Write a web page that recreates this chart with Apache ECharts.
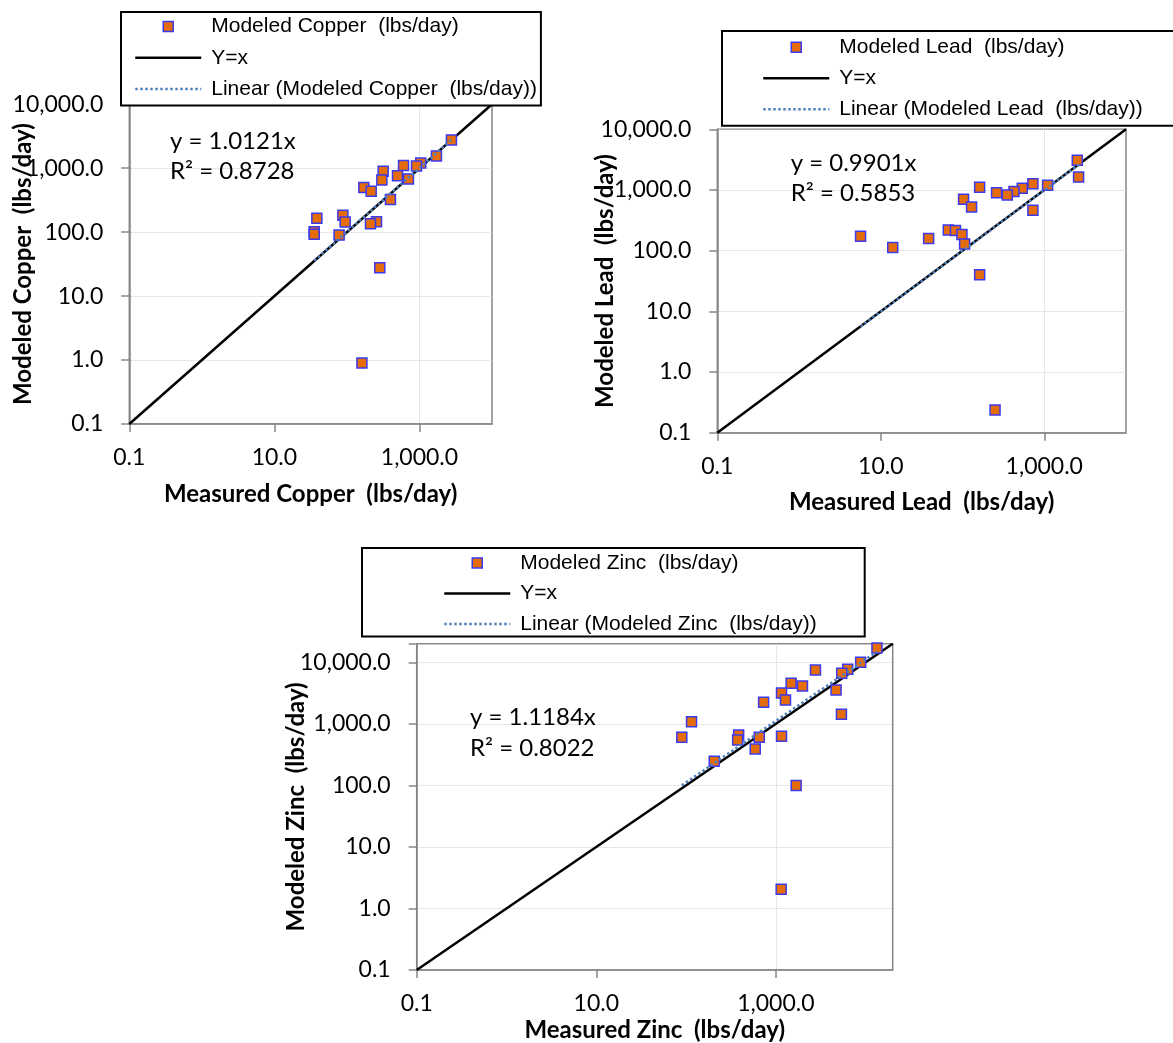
<!DOCTYPE html>
<html><head><meta charset="utf-8">
<script src="https://cdn.jsdelivr.net/npm/echarts@6/dist/echarts.min.js"></script>
<style>html,body{margin:0;padding:0;background:#fff}#c{width:1173px;height:1043px}</style>
</head><body><div id="c"></div>
<script>
// ---------------- data ----------------
const CU_MEASURED = [2760, 1714, 1042, 910, 603, 705, 498, 316, 303, 398, 171, 216, 38.5, 35.4, 35.4, 88, 94.6, 78, 256, 211, 284, 161];
const CU_MODELED  = [2768, 1556, 1208, 1084, 1099, 679, 766, 896, 656, 323, 498, 435, 165, 102, 93, 184, 144, 90, 146, 136, 27.9, 0.90];

const PB_MEASURED = [2535, 2630, 1099, 726, 538, 426, 353, 261, 162, 726, 103, 129, 67, 82, 98.4, 106, 38.5, 5.66, 14.0, 162, 250];
const PB_MODELED  = [3084, 1637, 1194, 1271, 1065, 940, 828, 904, 1107, 462, 701, 525, 219, 214, 184, 129, 158, 172, 113, 40.2, 0.237];

const ZN_MEASURED = [13360, 8790, 6310, 5410, 4680, 5370, 2760, 1977, 1479, 1156, 1280, 730, 1156, 1683, 1146, 653, 589, 385, 375, 206, 115, 89.6];
const ZN_MODELED  = [17100, 10000, 7690, 6620, 3550, 1429, 7500, 4120, 4560, 3180, 2443, 2240, 627, 100, 2.05, 604, 391, 659, 547, 246, 1086, 604];

const METALS    = ['Copper', 'Lead', 'Zinc'];
const SLOPES    = [1.0121, 0.9901, 1.1184];
const R_SQUARED = [0.8728, 0.5853, 0.8022];
const AXIS_MIN  = [0.1, 0.1, 0.1];
const AXIS_MAX  = [10000, 10000, 20000];
const X_TICK_VALUES = [0.1, 10, 1000];
const Y_LABELLED_MAX = 10000;

// ---------------- layout ----------------
const GRIDS = [
  {left: 129.3, top: 104.3, width: 362.7, height: 319.7},
  {left: 717.3, top: 129.3, width: 408.7, height: 303.4},
  {left: 416.7, top: 643.8, width: 476.0, height: 326.2}
];
const LEGENDS = [
  {left: 121, top: 12, padding: [4, 4, 6, 13], itemGap: 10.3},
  {left: 722, top: 31, padding: [5.7, 35, 6, 40], itemGap: 10},
  {left: 362, top: 548, padding: [4.4, 48, 2, 81], itemGap: 9.5}
];
const Y_NAME_GAP = [94, 100, 108];
const X_NAME_GAP = [58, 58, 48];
const EQ_POS = [
  {left: 170, top: 126.7, lh: 30},
  {left: 790.7, top: 148.3, lh: 30},
  {left: 470, top: 701, lh: 31.6}
];

const ORANGE = '#e46c0a', BLUE_EDGE = '#3a3aef', TREND = '#4f81bd', AXIS_GRAY = '#868686', GRID_GRAY = '#cfcfcf';
const T = 'rgba(0,0,0,0)';

function fmt(v) {
  return Number(v).toLocaleString('en-US', {minimumFractionDigits: 1, maximumFractionDigits: 1});
}
function isDecade(v) { const e = Math.log10(v); return Math.abs(e - Math.round(e)) < 1e-6; }
function xFmt(v) {
  if (!isDecade(v)) return '';
  const e = Math.round(Math.log10(v));
  return (Math.abs(e) % 2 === 1) ? fmt(v) : '';
}
function yFmt(v) {
  if (!isDecade(v) || v > Y_LABELLED_MAX * 1.0001) return '';
  return fmt(v);
}

const MEASURED = [CU_MEASURED, PB_MEASURED, ZN_MEASURED];
const MODELED  = [CU_MODELED, PB_MODELED, ZN_MODELED];

const grids = [], xAxes = [], yAxes = [], series = [], legends = [], graphics = [];

for (let i = 0; i < 3; i++) {
  const metal = METALS[i];
  const scatName = 'Modeled ' + metal + '  (lbs/day)';
  const trendName = 'Linear (Modeled ' + metal + '  (lbs/day))';
  grids.push(Object.assign({show: true, borderColor: AXIS_GRAY, borderWidth: 1.5, backgroundColor: '#fff',
    containLabel: false, outerBoundsMode: 'none'}, GRIDS[i]));

  const nDec = Math.round(Math.log10(AXIS_MAX[i])) - Math.round(Math.log10(AXIS_MIN[i])) + 1;
  const extra = isDecade(AXIS_MAX[i]) ? 0 : 1;
  const splitColors = [];
  for (let k = 0; k < nDec + extra; k++) {
    const v = AXIS_MIN[i] * Math.pow(10, k);
    const e = Math.round(Math.log10(v));
    splitColors.push(k > 0 && k < nDec - 1 + extra && Math.abs(e) % 2 === 1 && k < nDec ? GRID_GRAY : T);
  }

  xAxes.push({
    type: 'log', logBase: 10, gridIndex: i, min: AXIS_MIN[i], max: AXIS_MAX[i],
    name: 'Measured ' + metal + '  (lbs/day)', nameLocation: 'middle', nameGap: X_NAME_GAP[i],
    nameTextStyle: {fontFamily: 'Lato', fontWeight: 'bold', fontSize: 24, color: '#000'},
    axisLine: {show: true, onZero: false, lineStyle: {color: AXIS_GRAY, width: 1.5}},
    axisTick: {show: true, length: 8, customValues: X_TICK_VALUES, lineStyle: {color: AXIS_GRAY, width: 1.5}},
    axisLabel: {margin: 22, fontFamily: 'Lato', fontSize: 23, color: '#000', formatter: xFmt, showMinLabel: true, showMaxLabel: true},
    splitLine: {show: true, lineStyle: {color: splitColors, type: 'dotted', width: 1}},
    minorTick: {show: false}, minorSplitLine: {show: false}
  });
  yAxes.push({
    type: 'log', logBase: 10, gridIndex: i, min: AXIS_MIN[i], max: AXIS_MAX[i],
    name: 'Modeled ' + metal + '  (lbs/day)', nameLocation: 'middle', nameGap: Y_NAME_GAP[i],
    nameMoveOverlap: false,
    nameTextStyle: {fontFamily: 'Lato', fontWeight: 'bold', fontSize: 24, color: '#000'},
    axisLine: {show: true, onZero: false, lineStyle: {color: AXIS_GRAY, width: 1.5}},
    axisTick: {show: true, length: 8, lineStyle: {color: AXIS_GRAY, width: 1.5}},
    axisLabel: {margin: 26, fontFamily: 'Lato', fontSize: 23, color: '#000', formatter: yFmt, showMinLabel: true, showMaxLabel: true},
    splitLine: {show: true, lineStyle: {color: GRID_GRAY, type: 'dotted', width: 1}},
    minorTick: {show: false}, minorSplitLine: {show: false}
  });

  const pts = MEASURED[i].map((x, k) => [x, MODELED[i][k]]);
  const xmin = Math.min(...MEASURED[i]), xmax = Math.max(...MEASURED[i]);

  series.push({
    name: 'Y=x', type: 'line', xAxisIndex: i, yAxisIndex: i, z: 2, silent: true,
    symbol: 'none', data: [[AXIS_MIN[i], AXIS_MIN[i]], [AXIS_MAX[i], AXIS_MAX[i]]],
    lineStyle: {color: '#000', width: 2.5}, itemStyle: {color: '#000'}
  });
  series.push({
    name: scatName, type: 'scatter', xAxisIndex: i, yAxisIndex: i, z: 3,
    symbol: 'rect', symbolSize: 10, data: pts,
    itemStyle: {color: ORANGE, borderColor: BLUE_EDGE, borderWidth: 1.5, opacity: 1}
  });
  series.push({
    name: trendName, type: 'line', xAxisIndex: i, yAxisIndex: i, z: 4, silent: true,
    symbol: 'none', data: [[xmin, SLOPES[i] * xmin], [xmax, SLOPES[i] * xmax]],
    lineStyle: {color: TREND, width: 2.5, type: 'dotted'}, itemStyle: {color: TREND}
  });

  legends.push({
    orient: 'vertical', left: LEGENDS[i].left, top: LEGENDS[i].top, padding: LEGENDS[i].padding,
    itemWidth: 71, itemHeight: 10, itemGap: LEGENDS[i].itemGap, selectedMode: false,
    borderColor: '#000', borderWidth: 2, backgroundColor: '#fff',
    textStyle: {fontFamily: 'Liberation Sans', fontSize: 21, color: '#000', lineHeight: 18},
    data: [
      {name: scatName, icon: 'path://M0,0M71,10M28,0h10v10h-10z',
       itemStyle: {color: ORANGE, borderColor: BLUE_EDGE, borderWidth: 1.5}},
      {name: 'Y=x', icon: 'path://M0,0M71,10M0,5L66,5',
       itemStyle: {color: T, borderColor: '#000', borderWidth: 2.5}},
      {name: trendName, icon: 'path://M0,0M71,10M0,5L66,5',
       itemStyle: {color: T, borderColor: TREND, borderWidth: 2.5, borderType: 'dotted'}}
    ]
  });

  graphics.push({
    type: 'text', left: EQ_POS[i].left, top: EQ_POS[i].top, z: 10,
    style: {
      text: 'y = ' + SLOPES[i].toFixed(4) + 'x\nR\u00B2 = ' + R_SQUARED[i].toFixed(4),
      font: '24px Lato', fill: '#000', lineHeight: EQ_POS[i].lh
    }
  });
}

const chart = echarts.init(document.getElementById('c'), null, {renderer: 'canvas'});
chart.setOption({
  animation: false,
  backgroundColor: '#fff',
  grid: grids, xAxis: xAxes, yAxis: yAxes, series: series, legend: legends, graphic: graphics
});
</script></body></html>
